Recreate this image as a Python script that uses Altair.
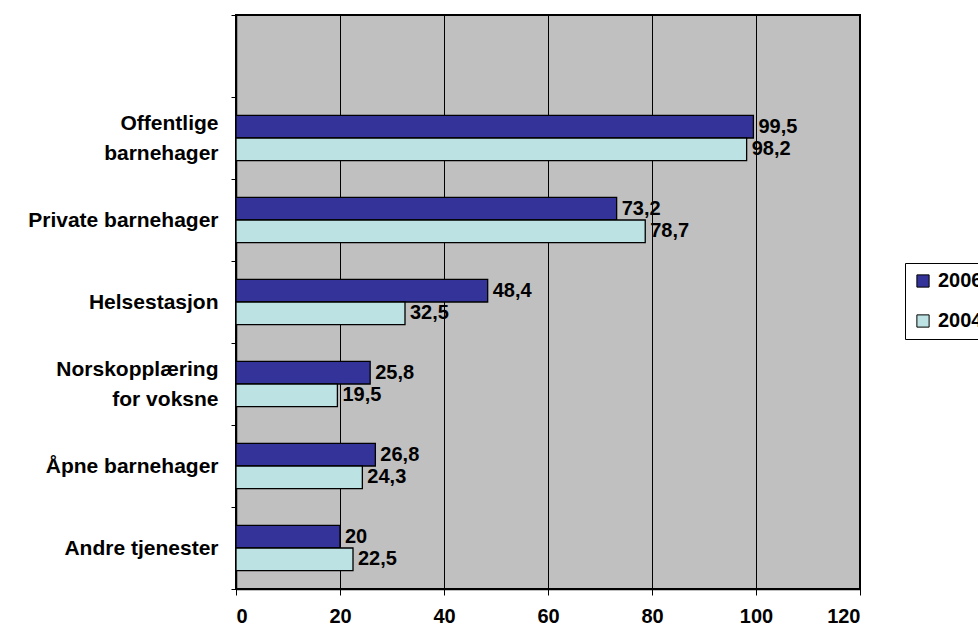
import altair as alt
import pandas as pd

NB = "\u00a0"  # non-breaking space keeps multi-line labels visually centred

# Categories top to bottom; the first slot is an empty band above the bars
categories = [
    "",
    f"Offentlige{NB * 2}\nbarnehager",
    "Private barnehager",
    "Helsestasjon",
    f"Norskopplæring\nfor voksne{NB * 5}",
    "Åpne barnehager",
    "Andre tjenester",
]
services = categories[1:]
years = ["2006", "2004"]
values_2006 = [99.5, 73.2, 48.4, 25.8, 26.8, 20]
values_2004 = [98.2, 78.7, 32.5, 19.5, 24.3, 22.5]
x_ticks = [0, 20, 40, 60, 80, 100, 120]

rows = []
for name, v06, v04 in zip(services, values_2006, values_2004):
    rows.append({"tjeneste": name, "år": "2006", "verdi": v06})
    rows.append({"tjeneste": name, "år": "2004", "verdi": v04})
df = pd.DataFrame(rows)

FONT = "Liberation Sans"
FS = 20
FS_CAT = 21

y_enc = alt.Y(
    "tjeneste:N",
    scale=alt.Scale(domain=categories, paddingInner=0, paddingOuter=0),
    axis=alt.Axis(
        title=None,
        tickBand="extent",
        labelExpr="isValid(datum.value) && datum.value != '' ? split(datum.value, '\\n') : ''",
        labelLineHeight=30,
        labelOffset={"condition": {"test": "isValid(datum.value) && indexof(datum.value, '\\n') >= 0",
                                   "value": -15}, "value": 0},
        labelLimit=0,
        labelFont=FONT,
        labelFontSize=FS_CAT,
        labelFontWeight="bold",
        labelColor="black",
        labelPadding=13,
        tickSize=5,
        tickColor="black",
        domainColor="black",
        domainWidth=1.5,
        grid=False,
    ),
)
yoff_enc = alt.YOffset(
    "år:N",
    scale=alt.Scale(domain=years, paddingInner=0, paddingOuter=0.82),
)

bars = alt.Chart(df).mark_bar(stroke="black", strokeWidth=1.3).encode(
    x=alt.X(
        "verdi:Q",
        scale=alt.Scale(domain=[0, 120], nice=False),
        axis=alt.Axis(
            title=None,
            values=x_ticks,
            labelFont=FONT,
            labelFontSize=FS,
            labelFontWeight="bold",
            labelColor="black",
            labelPadding=11,
            tickSize=6,
            tickColor="black",
            domainColor="black",
            domainWidth=1.5,
            grid=True,
            gridColor="black",
            gridWidth=1,
            gridOpacity=1,
        ),
    ),
    y=y_enc,
    yOffset=yoff_enc,
    color=alt.Color(
        "år:N",
        scale=alt.Scale(domain=years, range=["#333399", "#BCE2E4"]),
        legend=alt.Legend(
            title=None,
            orient="none",
            legendX=669,
            legendY=248,
            symbolType="square",
            symbolSize=150,
            symbolStrokeColor="black",
            symbolStrokeWidth=1,
            labelFont=FONT,
            labelFontSize=FS,
            labelFontWeight="bold",
            labelColor="black",
            labelOffset=5,
            rowPadding=20,
            padding=8,
            strokeColor="black",
            fillColor="white",
        ),
    ),
)

labels = alt.Chart(df).transform_calculate(
    tekst="replace(format(datum.verdi, '.1~f'), '.', ',')"
).mark_text(
    align="left", baseline="middle", dx=5,
    font=FONT, fontSize=FS, fontWeight="bold", color="black",
).encode(
    x=alt.X("verdi:Q"),
    y=alt.Y("tjeneste:N"),
    yOffset=alt.YOffset("år:N"),
    text="tekst:N",
)

chart = alt.layer(bars, labels).properties(
    width=624,
    height=574,
    autosize=alt.AutoSizeParams(type="none"),
    padding={"left": 236, "top": 15, "right": 118, "bottom": 40},
    background="white",
).configure_view(
    fill="#C0C0C0",
    stroke="black",
    strokeWidth=2,
)

chart.save("out.html", embed_options={"renderer": "svg", "actions": False})
